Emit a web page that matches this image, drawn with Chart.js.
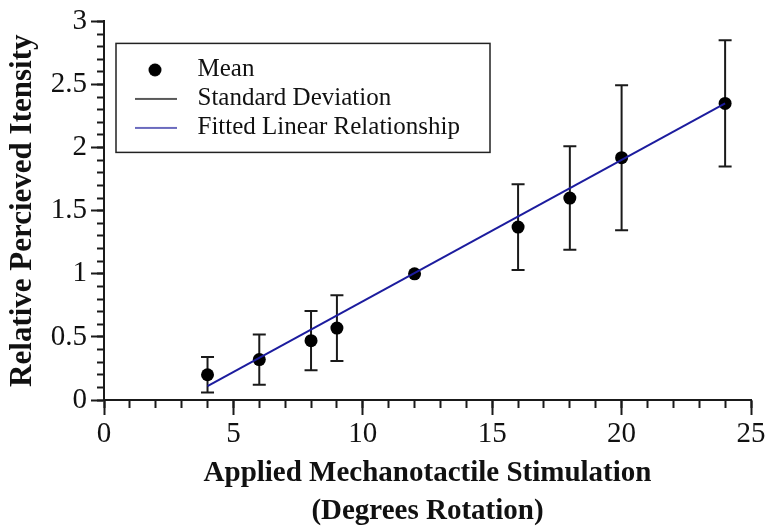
<!DOCTYPE html>
<html>
<head>
<meta charset="utf-8">
<script src="https://cdn.jsdelivr.net/npm/chart.js@4/dist/chart.umd.min.js"></script>
<style>
    html, body { margin: 0; padding: 0; background: #fff; }
    #chart { display: block; }
</style>
</head>
<body>
<canvas id="chart" width="769" height="527"></canvas>
<script>
// Data
const stimDegrees = [4, 6, 8, 9, 12, 16, 18, 20, 24];
const meanIntensity = [0.20, 0.32, 0.47, 0.57, 1.00, 1.37, 1.60, 1.92, 2.35];
const stdDev = [0.14, 0.20, 0.235, 0.26, 0, 0.34, 0.41, 0.575, 0.50];

// Fitted linear relationship (end points of the drawn line)
const fitX = [4, 24];
const fitY = [0.11, 2.35];

const xTickLabels = ['0', '5', '10', '15', '20', '25'];
const yTickLabels = ['0', '0.5', '1', '1.5', '2', '2.5', '3'];

const legendOrder = ['Mean', 'Standard Deviation', 'Fitted Linear Relationship'];

const serif = 'Liberation Serif';
const inkColor = '#111';
const fitColor = '#1c1c9e';

// Error bars: pairs of points split by a gap so each one is its own segment
function buildErrorBars() {
    const pts = [];
    stimDegrees.forEach((x, i) => {
        if (!stdDev[i]) return;
        pts.push({ x: x, y: meanIntensity[i] - stdDev[i] });
        pts.push({ x: x, y: meanIntensity[i] + stdDev[i] });
        pts.push({ x: x, y: null });
    });
    return pts;
}

// Small icons for the legend entries
function makeIcon(draw) {
    const c = document.createElement('canvas');
    c.width = 50;
    c.height = 16;
    draw(c.getContext('2d'));
    return c;
}

const legendIcons = {
    'Mean': makeIcon(g => {
        g.fillStyle = '#000';
        g.beginPath();
        g.arc(20, 8, 6.5, 0, Math.PI * 2);
        g.fill();
    }),
    'Standard Deviation': makeIcon(g => {
        g.strokeStyle = '#222';
        g.lineWidth = 1.5;
        g.beginPath();
        g.moveTo(0, 8);
        g.lineTo(42, 8);
        g.stroke();
    }),
    'Fitted Linear Relationship': makeIcon(g => {
        g.strokeStyle = '#3a3aa8';
        g.lineWidth = 1.5;
        g.beginPath();
        g.moveTo(0, 8);
        g.lineTo(42, 8);
        g.stroke();
    })
};

// Moves the legend to the top left of the plot and frames it
const legendFrame = {
    id: 'legendFrame',
    afterLayout(chart) {
        const lg = chart.legend;
        const area = chart.chartArea;
        lg.left = area.left + 27;
        lg.top = area.top + 32;
        lg.right = lg.left + lg.width;
        lg.bottom = lg.top + lg.height;
    },
    afterDraw(chart) {
        const lg = chart.legend;
        const ctx = chart.ctx;
        ctx.save();
        ctx.strokeStyle = '#222';
        ctx.lineWidth = 1.5;
        ctx.strokeRect(lg.left - 15, lg.top - 10, 374, 109);
        ctx.restore();
    }
};

const axisLine = { display: true, color: '#1a1a1a', width: 2 };

new Chart(document.getElementById('chart'), {
    type: 'scatter',
    data: {
        datasets: [
            {
                label: 'Fitted Linear Relationship',
                data: fitX.map((x, i) => ({ x: x, y: fitY[i] })),
                showLine: true,
                borderColor: fitColor,
                borderWidth: 2,
                pointRadius: 0,
                order: 0
            },
            {
                label: 'Mean',
                data: stimDegrees.map((x, i) => ({ x: x, y: meanIntensity[i] })),
                backgroundColor: '#000',
                borderWidth: 0,
                pointRadius: 6.5,
                order: 1
            },
            {
                label: 'Standard Deviation',
                data: buildErrorBars(),
                showLine: true,
                spanGaps: false,
                borderColor: '#1a1a1a',
                borderWidth: 2,
                pointStyle: 'line',
                pointRadius: 6.5,
                pointBorderWidth: 2,
                pointBorderColor: '#1a1a1a',
                order: 2
            }
        ]
    },
    options: {
        responsive: false,
        animation: false,
        devicePixelRatio: 1,
        events: [],
        layout: { padding: { top: 21, right: 18, left: 0, bottom: 0 } },
        scales: {
            x: {
                type: 'linear',
                position: 'bottom',
                weight: 1,
                min: 0,
                max: 25,
                border: axisLine,
                grid: { drawOnChartArea: false, tickLength: 15, tickWidth: 2, tickColor: '#1a1a1a' },
                ticks: {
                    stepSize: 5,
                    padding: 2,
                    color: inkColor,
                    font: { family: serif, size: 29 },
                    callback: (v, i) => xTickLabels[i]
                },
                title: {
                    display: true,
                    text: ['Applied Mechanotactile Stimulation', '(Degrees Rotation)'],
                    color: inkColor,
                    font: { family: serif, size: 29, weight: 'bold', lineHeight: 1.31 },
                    padding: { top: 0, bottom: -4 }
                },
                afterFit: scale => { scale.height = 127; }
            },
            xMinor: {
                type: 'linear',
                position: 'bottom',
                weight: 0,
                min: 0,
                max: 25,
                border: { display: false },
                grid: { drawOnChartArea: false, tickLength: 8, tickWidth: 2, tickColor: '#1a1a1a' },
                ticks: { display: false, stepSize: 1 },
                afterFit: scale => { scale.height = 0; }
            },
            y: {
                type: 'linear',
                position: 'left',
                weight: 1,
                min: 0,
                max: 3,
                border: axisLine,
                grid: { drawOnChartArea: false, tickLength: 13, tickWidth: 2, tickColor: '#1a1a1a' },
                ticks: {
                    stepSize: 0.5,
                    padding: 4,
                    color: inkColor,
                    font: { family: serif, size: 29 },
                    callback: (v, i) => yTickLabels[i]
                },
                title: {
                    display: true,
                    text: 'Relative Percieved Itensity',
                    color: inkColor,
                    font: { family: serif, size: 31, weight: 'bold', lineHeight: 1.2 },
                    padding: { top: 4, bottom: 0 }
                },
                afterFit: scale => { scale.width = 104; }
            },
            yMinor: {
                type: 'linear',
                position: 'left',
                weight: 0,
                min: 0,
                max: 3,
                border: { display: false },
                grid: { drawOnChartArea: false, tickLength: 7, tickWidth: 2, tickColor: '#1a1a1a' },
                ticks: { display: false, stepSize: 0.1 },
                afterFit: scale => { scale.width = 0; }
            }
        },
        plugins: {
            tooltip: { enabled: false },
            legend: {
                display: true,
                position: 'chartArea',
                align: 'start',
                labels: {
                    usePointStyle: true,
                    pointStyleWidth: 50,
                    padding: 4,
                    color: inkColor,
                    font: { family: serif, size: 25 },
                    sort: (a, b) => legendOrder.indexOf(a.text) - legendOrder.indexOf(b.text),
                    generateLabels: chart => {
                        const items = Chart.defaults.plugins.legend.labels.generateLabels(chart);
                        items.forEach(item => { item.pointStyle = legendIcons[item.text]; });
                        return items;
                    }
                }
            }
        }
    },
    plugins: [legendFrame]
});
</script>
</body>
</html>
